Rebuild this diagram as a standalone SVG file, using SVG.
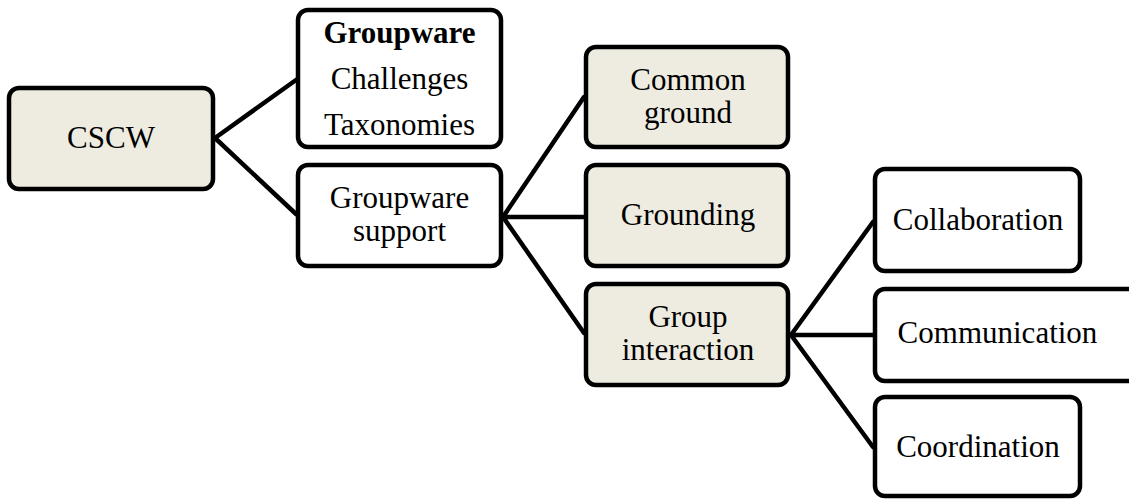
<svg xmlns="http://www.w3.org/2000/svg" width="1129" height="500" viewBox="0 0 1129 500">
<style>
.box{stroke:#000;stroke-width:4.5;}
.fill{fill:#EEECE1;}
.plain{fill:#fff;}
text{font-family:'Liberation Serif','Times New Roman',serif;font-size:31px;fill:#000;text-anchor:middle;}
.b{font-weight:bold;}
.c{stroke:#000;stroke-width:4.5;fill:none;stroke-linecap:round;}
</style>
<rect width="1129" height="500" fill="#fff"/>
<g id="connectors">
<path class="c" d="M215 138 L296 80 M215 138 L296 214"/>
<path class="c" d="M503 217 L584 97 M503 217 L584 217 M503 217 L584 333"/>
<path class="c" d="M791 335 L873 222 M791 335 L873 335 M791 335 L873 447"/>
</g>
<g id="cscw">
<rect class="box fill" x="9" y="88" width="204" height="101" rx="10"/>
<text x="111" y="148">CSCW</text>
</g>
<g id="groupware">
<rect class="box plain" x="298" y="10" width="203" height="137" rx="10"/>
<text class="b" x="399.5" y="43">Groupware</text>
<text x="399.5" y="89">Challenges</text>
<text x="399.5" y="135">Taxonomies</text>
</g>
<g id="groupware-support">
<rect class="box plain" x="298" y="165" width="203" height="101" rx="10"/>
<text x="399.5" y="208">Groupware</text>
<text x="399.5" y="241">support</text>
</g>
<g id="common-ground">
<rect class="box fill" x="586" y="47" width="202" height="100" rx="10"/>
<text x="688" y="90">Common</text>
<text x="688" y="123">ground</text>
</g>
<g id="grounding">
<rect class="box fill" x="586" y="165" width="202" height="101" rx="10"/>
<text x="688" y="225">Grounding</text>
</g>
<g id="group-interaction">
<rect class="box fill" x="586" y="284" width="202" height="101" rx="10"/>
<text x="688" y="327">Group</text>
<text x="688" y="360">interaction</text>
</g>
<g id="collaboration">
<rect class="box plain" x="875" y="169" width="205" height="102" rx="10"/>
<text x="978" y="230">Collaboration</text>
</g>
<g id="communication">
<rect class="box plain" x="875" y="289" width="300" height="92" rx="10"/>
<text x="997.5" y="343">Communication</text>
</g>
<g id="coordination">
<rect class="box plain" x="875" y="397" width="205" height="99" rx="10"/>
<text x="978" y="457">Coordination</text>
</g>
</svg>
